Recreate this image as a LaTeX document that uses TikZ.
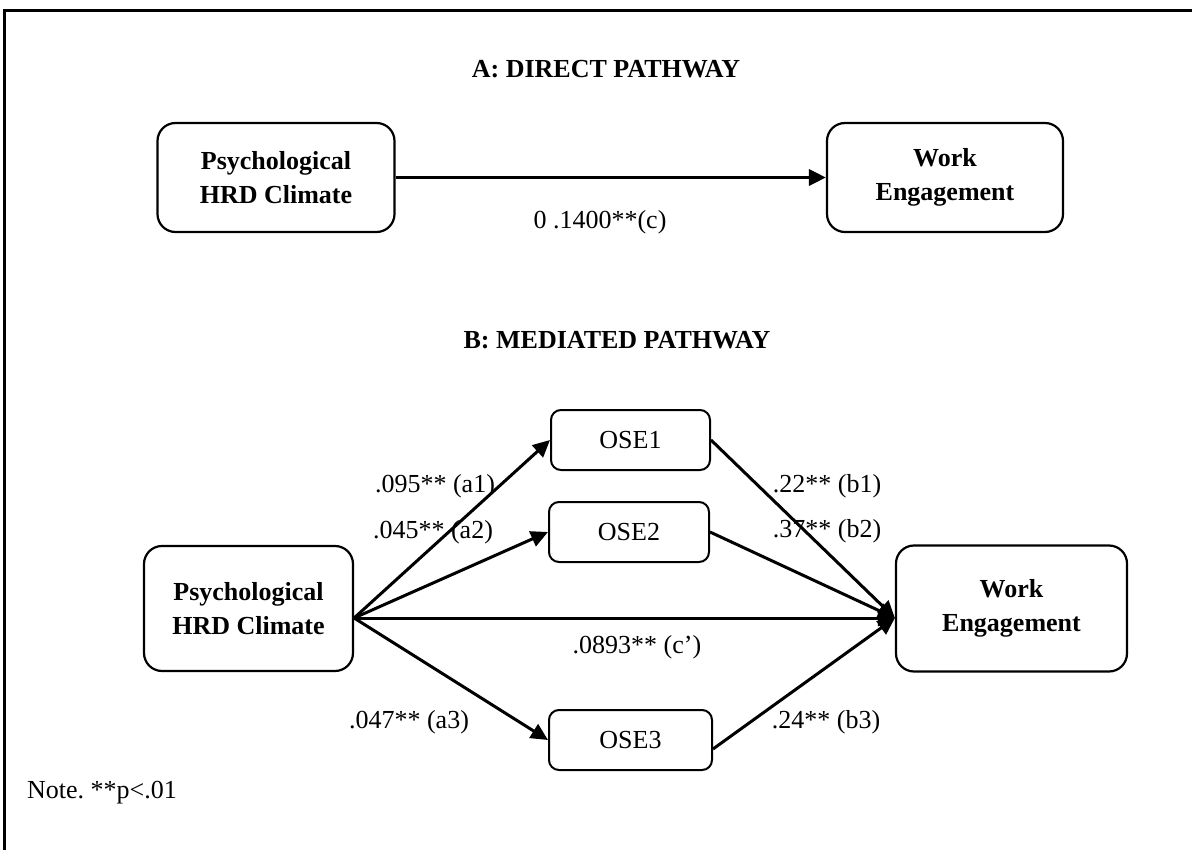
\documentclass[tikz,border=0pt]{standalone}
\usepackage{fontspec}
\setmainfont{Liberation Serif}
\usetikzlibrary{arrows.meta,calc}

\tikzset{
  bigbox/.style={draw, line width=2.2pt, rounded corners=18pt, align=center,
    font=\bfseries, inner sep=0pt},
  midbox/.style={draw, line width=2pt, rounded corners=10pt, inner sep=0pt,
    minimum width=160pt, minimum height=60pt},
  path arrow/.style={line width=3pt, -{Triangle[length=17pt,width=16pt]}},
  coef/.style={inner sep=0pt},
  heading/.style={font=\bfseries, inner sep=0pt},
  frame/.style={line width=3pt}
}

\begin{document}
\frenchspacing
\begin{tikzpicture}[x=1pt, y=-1pt]
  \fontsize{26}{34}\selectfont
  \useasboundingbox (0,0) rectangle (1192,850);

  % frame: top and left edges
  \coordinate (fr1) at (4,11);
  \coordinate (fr0) at (4,850);
  \coordinate (fr2) at (1192,11);
  \draw[frame] (fr0) -- (fr1) -- (fr2);

  % ---- A: direct pathway ----
  \node[heading] (titleA) at (606,69) {A: DIRECT PATHWAY};
  \node[bigbox, minimum width=237pt, minimum height=109pt] (pA) at (276,177.5)
    {Psychological\\HRD Climate};
  \node[bigbox, minimum width=236pt, minimum height=109pt] (wA) at (945,177.5)
    {Work\\Engagement};
  \draw[path arrow, line width=3.4pt] (pA.east) -- (wA.west);
  \node[coef] (cA) at (600,222) {0 .1400**(c)};

  % ---- B: mediated pathway ----
  \node[heading] (titleB) at (617,340) {B: MEDIATED PATHWAY};
  \node[bigbox, minimum width=209pt, minimum height=125pt] (pB) at (248.5,608.5)
    {Psychological\\HRD Climate};
  \node[bigbox, minimum width=231pt, minimum height=126pt] (wB) at (1011.5,608.5)
    {Work\\Engagement};

  \node[midbox, minimum width=159pt] (ose1) at (630.5,440) {OSE1};
  \node[midbox] (ose2) at (629,532) {OSE2};
  \node[midbox, minimum width=163pt] (ose3) at (630.5,740) {OSE3};

  % common start and end points of the paths
  \coordinate (src) at ($(pB.east)+(0,9.5)$);
  \coordinate (dst) at ($(wB.west)+(0,9.5)$);
  \coordinate (o3out) at ($(ose3.east)+(0,9)$);

  \draw[path arrow] (src) -- (ose1.west);
  \draw[path arrow] (src) -- (ose2.west);
  \draw[path arrow] (src) -- (dst);
  \draw[path arrow] (src) -- (ose3.west);
  \draw[path arrow] (ose1.east) -- (dst);
  \draw[path arrow] (ose2.east) -- (dst);
  \draw[path arrow] (o3out) -- (dst);

  % path coefficients
  \node[coef] (la1) at (435,486) {.095** (a1)};
  \node[coef] (la2) at (433,532) {.045** (a2)};
  \node[coef] (lc) at (637,647) {.0893** (c’)};
  \node[coef] (la3) at (409,722) {.047** (a3)};
  \node[coef] (lb1) at (827,486) {.22** (b1)};
  \node[coef] (lb2) at (827,531) {.37** (b2)};
  \node[coef] (lb3) at (826,722) {.24** (b3)};

  \node[coef, anchor=west] (note) at (27,793) {Note. **p<.01};
\end{tikzpicture}
\end{document}
